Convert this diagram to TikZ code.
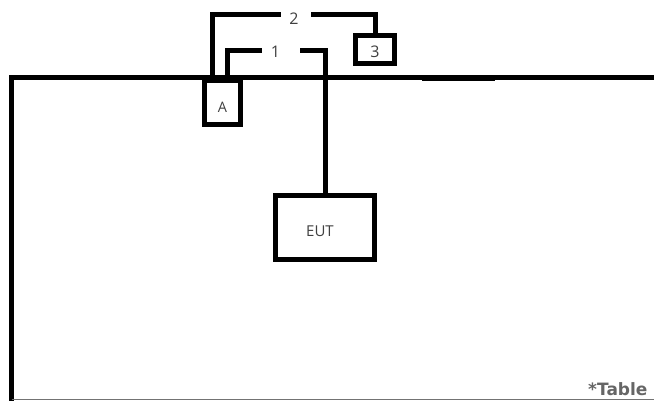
\documentclass[tikz,border=0pt]{standalone}
\usepackage{fontspec}
\setmainfont{Open Sans}
\newfontfamily\tabfont{DejaVu Sans}
\begin{document}
\begin{tikzpicture}[x=1pt,y=-1pt,
  wire/.style={line width=5pt},
  box/.style={draw, line width=5pt, inner sep=0pt},
  lbl/.style={inner sep=0pt, font=\fontsize{16}{18}\selectfont, text=black!75}]
\useasboundingbox (0,0) rectangle (654,401);
% table
\draw[line width=5pt, line cap=rect] (656,78) -- (11.5,78) -- (11.5,403);
\draw[line width=3pt] (422,80) -- (495,80);
\draw[line width=1pt, black!55] (11.5,399.5) -- (656,399.5);
\node[anchor=base west, inner sep=0pt, font=\tabfont\bfseries\fontsize{17}{18}\selectfont, text=black!60] (tab) at (588,395.5) {*Table};
% boxes
\node[box, minimum width=36pt, minimum height=44pt] (A) at (222.5,102.5) {};
\node[box, minimum width=39pt, minimum height=28pt] (B3) at (375,49.5) {};
\node[box, minimum width=99pt, minimum height=64pt] (EUT) at (325,227.5) {};
% labels
\node[lbl, font=\fontsize{14.5}{16}\selectfont] (tA) at (222.5,107.5) {A};
\node[lbl] (t3) at (375,52) {3};
\node[lbl, font=\fontsize{15}{16}\selectfont] (tE) at (320,231) {EUT};
\node[lbl] (l2) at (294,18.5) {2};
\node[lbl] (l1) at (275.5,51.5) {1};
\coordinate (l2w) at (281,14.5);
\coordinate (l2e) at (311,14.5);
\coordinate (l1w) at (262,50.5);
\coordinate (l1e) at (300,50.5);
% connectors
\draw[wire] (A.north -| 212,0) |- (l2w);
\draw[wire] (l2e) -| (B3.north);
\draw[wire] (A.north -| 227.5,0) |- (l1w);
\draw[wire] (l1e) -| (EUT.north);
\end{tikzpicture}
\end{document}
